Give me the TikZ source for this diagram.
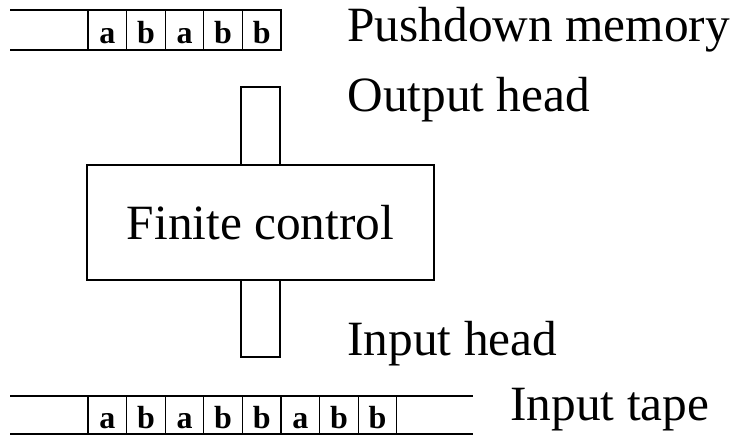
\documentclass[tikz,border=0pt]{standalone}
\usepackage{fontspec}
\setmainfont{Liberation Serif}
\usetikzlibrary{positioning}
\tikzset{
  pcell/.style={draw,outer sep=0,inner sep=0,minimum width=28.95pt,minimum height=30pt,text height=20pt,text depth=0pt,font=\fontsize{24}{24}\selectfont\bfseries},
  tcell/.style={pcell,minimum height=28.5pt},
  head/.style={draw,outer sep=0,inner sep=0,minimum width=29.25pt},
  ctrl/.style={draw,outer sep=0,minimum width=260.25pt,minimum height=86.25pt,font=\fontsize{37}{37}\selectfont},
  lbl/.style={anchor=base west,inner sep=0,font=\fontsize{37}{37}\selectfont}
}
\begin{document}
\begin{tikzpicture}[x=0.75pt,y=-0.75pt,line width=0.8pt]
\useasboundingbox (0,0) rectangle (737,442);
% pushdown memory
\foreach \c [count=\i] in {a,b,a,b,b} \node[pcell] (p\i) at (88+38.6*\i-19.3,30) {\c};
\coordinate (pl) at (10,10);
\draw (pl) -- (p5.north east);
\draw (pl |- p1.south) -- (p5.south east);
% input tape
\foreach \c [count=\i] in {a,b,a,b,b,a,b,b} \node[tcell] (t\i) at (88+38.6*\i-19.3,415) {\c};
\coordinate (tl) at (10,396);
\coordinate (tr) at (473,396);
\draw (tl) -- (tr);
\draw (tl |- t1.south) -- (tr |- t1.south);
% control and heads
\node[ctrl] (fc) at (260.5,222.5) {Finite control};
\node[head,minimum height=58.5pt,above=0pt of fc] (oh) {};
\node[head,minimum height=57.75pt,below=0pt of fc] (ih) {};
% labels
\node[lbl] (pm) at (347,42) {Pushdown memory};
\node[lbl] (ol) at (347,112) {Output head};
\node[lbl] (il) at (347,355) {Input head};
\node[lbl] (tp) at (510,420) {Input tape};
\end{tikzpicture}
\end{document}
